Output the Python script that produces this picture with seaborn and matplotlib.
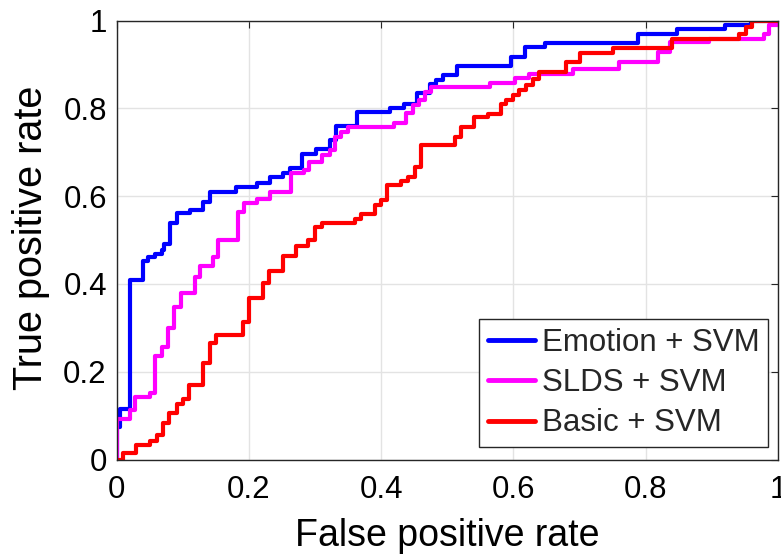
import matplotlib
matplotlib.use("Agg")
import matplotlib.pyplot as plt
import numpy as np
import pandas as pd
import seaborn as sns

# ROC operating points (false positive rate, true positive rate) for each classifier,
# listed as staircase corners: at each fpr the curve rises to the tpr value, then runs right.
emotion_fpr = [0.0, 0.0, 0.006, 0.021, 0.040, 0.048, 0.058, 0.068, 0.072, 0.081, 0.092,
               0.111, 0.131, 0.141, 0.181, 0.212, 0.232, 0.252, 0.262, 0.281, 0.302,
               0.323, 0.332, 0.363, 0.414, 0.434, 0.454, 0.474, 0.483, 0.494, 0.514,
               0.597, 0.617, 0.647, 0.788, 0.847, 0.920, 0.959, 1.0]
emotion_tpr = [0.0, 0.075, 0.115, 0.410, 0.453, 0.462, 0.468, 0.477, 0.492, 0.538, 0.561,
               0.568, 0.587, 0.610, 0.621, 0.631, 0.644, 0.652, 0.663, 0.696, 0.707,
               0.728, 0.760, 0.792, 0.800, 0.811, 0.834, 0.855, 0.864, 0.876, 0.896,
               0.917, 0.939, 0.948, 0.970, 0.981, 0.990, 1.0, 1.0]

slds_fpr = [0.0, 0.0, 0.021, 0.028, 0.051, 0.058, 0.068, 0.078, 0.087, 0.097, 0.118,
            0.126, 0.146, 0.154, 0.184, 0.192, 0.213, 0.232, 0.263, 0.283, 0.291,
            0.310, 0.322, 0.330, 0.340, 0.350, 0.419, 0.438, 0.448, 0.457, 0.467,
            0.476, 0.564, 0.603, 0.623, 0.690, 0.760, 0.819, 0.836, 0.896, 0.979,
            0.987, 0.999, 1.0]
slds_tpr = [0.0, 0.092, 0.113, 0.143, 0.152, 0.236, 0.256, 0.299, 0.348, 0.380, 0.416,
            0.441, 0.462, 0.500, 0.564, 0.584, 0.593, 0.610, 0.652, 0.659, 0.678,
            0.694, 0.705, 0.735, 0.747, 0.757, 0.766, 0.789, 0.807, 0.819, 0.838,
            0.848, 0.857, 0.868, 0.879, 0.889, 0.906, 0.929, 0.950, 0.959, 0.970,
            0.990, 1.0, 1.0]

basic_fpr = [0.0, 0.010, 0.030, 0.050, 0.061, 0.071, 0.080, 0.091, 0.101, 0.110, 0.130,
             0.141, 0.150, 0.191, 0.200, 0.221, 0.231, 0.251, 0.271, 0.290, 0.300,
             0.310, 0.360, 0.370, 0.390, 0.400, 0.409, 0.430, 0.440, 0.451, 0.461,
             0.511, 0.521, 0.541, 0.561, 0.581, 0.589, 0.599, 0.609, 0.619, 0.629,
             0.639, 0.680, 0.700, 0.750, 0.840, 0.941, 0.951, 0.960, 1.0]
basic_tpr = [0.0, 0.014, 0.033, 0.043, 0.056, 0.084, 0.107, 0.126, 0.139, 0.170, 0.219,
             0.265, 0.284, 0.314, 0.367, 0.401, 0.430, 0.464, 0.486, 0.500, 0.530,
             0.538, 0.547, 0.559, 0.580, 0.591, 0.625, 0.635, 0.644, 0.666, 0.716,
             0.735, 0.758, 0.781, 0.787, 0.811, 0.820, 0.830, 0.842, 0.853, 0.866,
             0.883, 0.906, 0.927, 0.937, 0.959, 0.970, 0.985, 1.0, 1.0]

methods = ["Emotion + SVM", "SLDS + SVM", "Basic + SVM"]
colors = {"Emotion + SVM": "#0000ff", "SLDS + SVM": "#ff00ff", "Basic + SVM": "#ff0000"}

x_ticks = [0, 0.2, 0.4, 0.6, 0.8, 1]
x_tick_labels = ["0", "0.2", "0.4", "0.6", "0.8", "1"]
y_ticks = [0, 0.2, 0.4, 0.6, 0.8, 1]
y_tick_labels = ["0", "0.2", "0.4", "0.6", "0.8", "1"]

frames = []
for name, fpr, tpr in zip(methods,
                          [emotion_fpr, slds_fpr, basic_fpr],
                          [emotion_tpr, slds_tpr, basic_tpr]):
    frames.append(pd.DataFrame({"fpr": fpr, "tpr": tpr, "method": name,
                                "order": np.arange(len(fpr))}))
roc = pd.concat(frames, ignore_index=True)

sns.set_theme(style="white")
plt.rcParams["font.family"] = ["Liberation Sans", "DejaVu Sans"]

fig = plt.figure(figsize=(7.81, 5.55), dpi=100)
ax = fig.add_axes([0.1492, 0.172, 0.847, 0.791])

sns.lineplot(data=roc, x="fpr", y="tpr", hue="method", hue_order=methods,
             palette=colors, estimator=None, sort=False, units="method",
             drawstyle="steps-post", linewidth=3.0, ax=ax, legend=True)

ax.set_xlim(0, 1)
ax.set_ylim(0, 1)
ax.set_xticks(x_ticks)
ax.set_xticklabels(x_tick_labels)
ax.set_yticks(y_ticks)
ax.set_yticklabels(y_tick_labels)
ax.grid(True, color="#e3e3e3", linewidth=1.0)
ax.set_axisbelow(True)

for side in ["left", "right", "top", "bottom"]:
    ax.spines[side].set_visible(True)
    ax.spines[side].set_color("#262626")
    ax.spines[side].set_linewidth(1.0)

ax.tick_params(axis="both", which="major", direction="in", length=5, width=0.8,
               color="#262626", top=True, right=True, labelsize=22.5,
               labelcolor="black")
ax.tick_params(axis="x", pad=11)
ax.tick_params(axis="y", pad=7)

ax.set_xlabel("False positive rate", fontsize=27, color="black")
ax.set_ylabel("True positive rate", fontsize=28.5, color="black")
ax.xaxis.set_label_coords(0.5, -0.133)
ax.yaxis.set_label_coords(-0.1005, 0.505)

leg = ax.legend(loc="lower right", bbox_to_anchor=(0.985, 0.028), borderaxespad=0,
                fontsize=22.5, frameon=True, fancybox=False, framealpha=1,
                edgecolor="#262626", handlelength=1.5, handletextpad=0.22,
                labelspacing=0.33, borderpad=0.28, title=None)
leg.get_frame().set_linewidth(1.0)
for line in leg.get_lines():
    line.set_linewidth(3.5)

fig.savefig("out.png", dpi=100)
